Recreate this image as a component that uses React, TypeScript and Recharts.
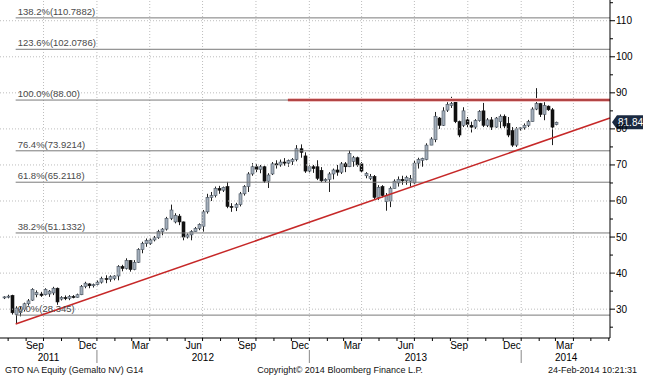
import React from 'react';
import { ComposedChart, Bar, XAxis, YAxis, ReferenceLine, ReferenceDot } from 'recharts';

// x values are days counted from 1 Jan 2012 (UTC)
const DAY0 = Date.UTC(2012, 0, 1);
const dayOf = (y: number, m: number, d: number) => Math.round((Date.UTC(y, m - 1, d) - DAY0) / 86400000);

const X_DOMAIN = [dayOf(2011, 7, 18), dayOf(2014, 6, 3)];
const Y_DOMAIN = [22, 115.75];
const FIRST_WEEK = dayOf(2011, 7, 24);

// weekly OHLC, GTO NA
const open = [
  33.2, 33.4, 33.8, 28.5, 29.0, 30.0, 31.5, 32.5, 34.0, 34.2,
  34.0, 34.2, 34.5, 35.8, 32.8, 33.2, 33.0, 33.5, 33.3, 34.0,
  36.3, 37.0, 36.5, 36.8, 37.5, 38.5, 38.3, 38.5, 39.2, 41.8,
  41.3, 43.5, 41.0, 43.0, 46.5, 48.2, 48.2, 49.2, 49.8, 51.5,
  52.2, 55.2, 54.2, 55.8, 54.2, 50.0, 50.6, 51.5, 52.4, 53.0,
  57.0, 61.0, 61.5, 63.5, 63.0, 64.0, 58.5, 58.2, 59.0, 62.0,
  64.0, 67.5, 69.5, 68.8, 69.5, 65.5, 67.5, 70.3, 70.0, 70.8,
  70.5, 71.0, 71.5, 74.5, 72.5, 68.3, 69.5, 69.5, 68.5, 65.6,
  66.0, 67.5, 68.6, 68.0, 70.3, 69.5, 71.0, 72.0, 70.3, 67.0,
  66.3, 66.8, 61.0, 64.0, 59.8, 60.0, 63.5, 65.0, 66.0, 65.6,
  65.5, 65.0, 70.5, 71.3, 71.5, 75.5, 77.0, 83.0, 81.0, 85.2,
  86.5, 88.0, 82.0, 81.0, 82.5, 81.0, 80.5, 82.3, 85.0, 81.0,
  82.5, 80.5, 82.0, 83.5, 81.5, 79.5, 75.5, 80.0, 80.3, 81.0,
  82.0, 85.5, 87.0, 84.0, 86.3, 85.3, 81.2,
];
const high = [
  33.6, 34.0, 34.0, 30.8, 30.8, 31.8, 32.8, 35.8, 35.2, 34.8,
  35.8, 35.3, 36.2, 36.0, 33.6, 33.8, 33.9, 33.9, 34.3, 36.7,
  37.6, 37.2, 37.1, 38.0, 39.0, 39.4, 39.4, 39.4, 42.2, 42.3,
  44.1, 43.6, 43.6, 46.9, 48.7, 49.6, 49.6, 50.3, 52.0, 52.5,
  55.6, 59.0, 56.6, 56.4, 54.3, 51.0, 51.9, 52.8, 53.8, 57.5,
  62.0, 62.5, 64.0, 64.2, 64.0, 65.3, 59.4, 59.5, 62.5, 64.4,
  68.0, 70.5, 70.2, 70.0, 69.8, 67.7, 70.8, 71.3, 71.5, 71.9,
  71.5, 71.9, 75.5, 75.7, 73.5, 70.0, 70.0, 71.3, 69.4, 66.3,
  68.0, 69.0, 70.0, 70.8, 70.8, 74.0, 72.5, 72.3, 70.8, 68.0,
  67.5, 67.2, 64.4, 64.4, 62.2, 64.0, 66.0, 66.8, 67.0, 67.0,
  67.2, 71.3, 72.0, 72.0, 76.0, 77.7, 84.7, 83.3, 86.0, 87.4,
  88.9, 88.2, 82.3, 86.0, 83.3, 82.0, 82.7, 85.2, 87.2, 83.0,
  83.3, 83.3, 84.0, 84.0, 83.3, 80.5, 80.5, 80.5, 81.5, 82.5,
  86.0, 91.3, 87.2, 87.4, 86.5, 85.8, 82.0,
];
const low = [
  32.8, 33.0, 28.5, 26.0, 28.0, 29.5, 31.0, 32.3, 33.3, 33.4,
  33.8, 33.4, 33.9, 31.2, 32.4, 32.5, 32.5, 33.0, 33.2, 33.9,
  35.8, 35.8, 36.0, 36.6, 37.1, 37.2, 37.6, 38.0, 38.0, 40.5,
  41.0, 40.4, 40.8, 42.8, 45.5, 47.3, 47.8, 48.8, 49.5, 50.5,
  51.8, 54.7, 53.8, 53.3, 49.1, 49.6, 49.1, 51.5, 51.9, 51.5,
  56.5, 60.0, 61.0, 62.0, 62.5, 58.0, 57.0, 57.2, 58.5, 61.5,
  62.5, 67.0, 68.0, 67.7, 65.0, 63.6, 67.2, 69.0, 69.5, 69.8,
  69.5, 70.0, 71.0, 72.0, 67.8, 67.7, 67.8, 65.8, 65.2, 65.2,
  62.5, 66.0, 67.0, 67.5, 68.0, 69.4, 69.5, 69.5, 67.8, 66.3,
  65.8, 60.3, 60.3, 61.0, 57.3, 58.3, 63.5, 64.0, 64.5, 64.5,
  64.0, 64.8, 69.0, 69.5, 71.3, 75.5, 76.3, 80.0, 80.8, 84.7,
  85.8, 81.6, 77.7, 80.5, 80.5, 79.0, 80.0, 82.0, 80.5, 80.5,
  79.7, 80.3, 80.2, 80.2, 77.7, 75.0, 75.0, 79.5, 79.8, 80.5,
  82.0, 85.2, 83.3, 82.4, 85.0, 75.5, 81.0,
];
const close = [
  33.4, 33.6, 29.0, 30.3, 30.0, 31.5, 32.3, 35.5, 34.6, 33.8,
  35.5, 35.0, 35.8, 32.0, 33.2, 33.0, 33.5, 33.3, 34.0, 36.3,
  37.2, 36.5, 36.8, 37.5, 38.5, 38.3, 39.0, 39.2, 41.8, 41.3,
  43.5, 41.0, 43.0, 46.5, 48.2, 49.0, 49.2, 49.8, 51.5, 52.2,
  55.2, 57.5, 56.0, 54.2, 50.0, 50.6, 51.5, 52.4, 53.5, 57.0,
  61.0, 61.5, 63.5, 63.0, 63.8, 58.5, 58.2, 59.0, 62.0, 64.0,
  67.5, 69.5, 68.8, 69.5, 65.5, 67.2, 70.3, 70.0, 70.8, 70.5,
  71.2, 71.5, 74.5, 73.5, 68.3, 69.5, 69.0, 66.3, 65.6, 66.0,
  67.5, 68.6, 68.0, 70.3, 69.5, 73.2, 72.0, 70.0, 68.3, 67.6,
  66.8, 61.0, 63.8, 61.5, 61.5, 63.5, 65.5, 66.0, 65.6, 66.5,
  66.2, 70.5, 71.5, 71.8, 75.5, 77.2, 83.5, 81.0, 85.0, 86.8,
  87.0, 82.0, 78.3, 85.0, 81.2, 80.5, 82.3, 84.8, 81.0, 82.5,
  80.5, 83.0, 83.5, 80.8, 78.3, 75.5, 80.0, 80.3, 81.0, 82.0,
  85.5, 87.0, 84.0, 86.5, 85.3, 80.5, 81.84,
];
const LAST_PRICE = 81.84;

// Fibonacci retracement levels
const fibPct = ['138.2%', '123.6%', '100.0%', '76.4%', '61.8%', '38.2%', '0.0%'];
const fibVal = [110.7882, 102.0786, 88.0, 73.9214, 65.2118, 51.1332, 28.345];
const fibText = ['110.7882', '102.0786', '88.00', '73.9214', '65.2118', '51.1332', '28.345'];

// trend lines
const trendStart = { x: dayOf(2011, 8, 14), y: 25.9 };
const trendEnd = { x: X_DOMAIN[1], y: 83.0 };
const resistStart = { x: dayOf(2012, 11, 25), y: 88.0 };

// axes
const yMajor = [30, 40, 50, 60, 70, 80, 90, 100, 110];
const yMinor = [25, 35, 45, 55, 65, 75, 85, 95, 105, 115];

const monthStarts: number[] = [];
for (let y = 2011, m = 8; y < 2014 || m <= 6; m++) {
  if (m > 12) { m = 1; y++; }
  monthStarts.push(dayOf(y, m, 1));
}
const quarterGrid = [
  dayOf(2011, 10, 1), dayOf(2012, 1, 1), dayOf(2012, 4, 1), dayOf(2012, 7, 1),
  dayOf(2012, 10, 1), dayOf(2013, 1, 1), dayOf(2013, 4, 1), dayOf(2013, 7, 1),
  dayOf(2013, 10, 1), dayOf(2014, 1, 1), dayOf(2014, 4, 1),
];
const monthNames = ['Sep', 'Dec', 'Mar', 'Jun', 'Sep', 'Dec', 'Mar', 'Jun', 'Sep', 'Dec', 'Mar'];
const monthDates = [
  dayOf(2011, 9, 16), dayOf(2011, 12, 16), dayOf(2012, 3, 16), dayOf(2012, 6, 16),
  dayOf(2012, 9, 16), dayOf(2012, 12, 16), dayOf(2013, 3, 16), dayOf(2013, 6, 16),
  dayOf(2013, 9, 16), dayOf(2013, 12, 16), dayOf(2014, 3, 17),
];
const yearNames = ['2011', '2012', '2013', '2014'];
const yearStarts = [dayOf(2012, 1, 1), dayOf(2013, 1, 1), dayOf(2014, 1, 1)];
// label spots (middle of each year's visible span), offset by half a day so they never share a tick value
const yearDates = [-83.5, 182.5, 549.5, 808.5];

const data = open.map((o, i) => ({
  day: FIRST_WEEK + 7 * i,
  open: o,
  high: high[i],
  low: low[i],
  close: close[i],
  range: [low[i], high[i]],
}));

const FONT = '"Liberation Sans", Arial, sans-serif';

const Candle = (props: any) => {
  const { x, y, width, height, payload } = props;
  if (x == null || height == null) return null;
  const top = Math.min(y, y + height);
  const h = Math.abs(height);
  const span = payload.high - payload.low || 1;
  const toY = (v: number) => top + ((payload.high - v) / span) * h;
  const cx = Math.round(x + width / 2) + 0.5;
  const up = payload.close >= payload.open;
  const yo = toY(payload.open);
  const yc = toY(payload.close);
  const bTop = Math.min(yo, yc);
  const bH = Math.max(1, Math.abs(yo - yc));
  return (
    <g>
      <line x1={cx} x2={cx} y1={top} y2={top + h} stroke="#1e1e1e" strokeWidth={1} />
      <rect
        x={cx - 1.5}
        y={bTop}
        width={3}
        height={bH}
        fill={up ? '#a3aebb' : '#111'}
        stroke={up ? '#4a5460' : '#111'}
        strokeWidth={0.6}
      />
    </g>
  );
};

const XTick = (props: any) => {
  const { x, y, payload } = props;
  const v = payload.value;
  const mi = monthDates.indexOf(v);
  if (mi >= 0) {
    return (
      <text x={x} y={y + 11} textAnchor="middle" fontSize={10} fontFamily={FONT} fill="#000">
        {monthNames[mi]}
      </text>
    );
  }
  const yi = yearDates.indexOf(v);
  if (yi >= 0) {
    return (
      <text x={x} y={y + 23} textAnchor="middle" fontSize={10} fontFamily={FONT} fill="#000">
        {yearNames[yi]}
      </text>
    );
  }
  return (
    <g>
      <line x1={x} x2={x} y1={y} y2={y + 3} stroke="#000" />
      {yearStarts.includes(v) && <line x1={x} x2={x} y1={y + 12} y2={y + 25} stroke="#888" />}
    </g>
  );
};

const YTick = (props: any) => {
  const { x, y, payload } = props;
  const major = yMajor.includes(payload.value);
  return (
    <g>
      <line x1={x} x2={x + (major ? 5 : 3)} y1={y} y2={y} stroke="#000" />
      {major && (
        <text x={x + 6} y={y + 3.5} fontSize={10} fontFamily={FONT} fill="#000">
          {payload.value}
        </text>
      )}
    </g>
  );
};

const FibLabel = (props: any) => {
  const { cx, cy, text } = props;
  if (cx == null) return null;
  return (
    <text x={cx + 2} y={cy - 3} fontSize={9.5} fontFamily={FONT} fill="#4a4a4a">
      {text}
    </text>
  );
};

const PriceTag = (props: any) => {
  const { cx, cy } = props;
  if (cx == null) return null;
  return (
    <g>
      <polygon
        points={`${cx + 2},${cy} ${cx + 7},${cy - 7} ${cx + 33},${cy - 7} ${cx + 33},${cy + 7} ${cx + 7},${cy + 7}`}
        fill="#1b2a41"
      />
      <text x={cx + 8} y={cy + 4} fontSize={10} fontFamily={FONT} fill="#fff">
        {LAST_PRICE.toFixed(2)}
      </text>
    </g>
  );
};

export default function App() {
  const xTicks = [...monthStarts, ...monthDates, ...yearDates];
  return (
    <div style={{ position: 'absolute', left: 0, top: 0, width: 645, height: 376, background: '#fff' }}>
      <ComposedChart width={645} height={376} data={data} margin={{ top: 0, right: 0, bottom: 0, left: 0 }}>
        <XAxis
          xAxisId="x"
          dataKey="day"
          type="number"
          domain={X_DOMAIN}
          allowDataOverflow
          ticks={xTicks}
          interval={0}
          tick={<XTick />}
          tickLine={false}
          tickSize={0}
          tickMargin={0}
          axisLine={{ stroke: '#000' }}
          height={38}
        />
        <YAxis
          yAxisId="y"
          orientation="right"
          type="number"
          domain={Y_DOMAIN}
          allowDataOverflow
          ticks={[...yMajor, ...yMinor]}
          interval={0}
          tick={<YTick />}
          tickLine={false}
          tickSize={0}
          tickMargin={0}
          axisLine={{ stroke: '#000' }}
          width={35}
        />
        {yMajor.map((v) => (
          <ReferenceLine key={'gy' + v} xAxisId="x" yAxisId="y" y={v} stroke="#bdbdbd" strokeDasharray="1 2" />
        ))}
        {quarterGrid.map((d) => (
          <ReferenceLine key={'gx' + d} xAxisId="x" yAxisId="y" x={d} stroke="#bdbdbd" strokeDasharray="1 2" />
        ))}
        {fibVal.map((v) => (
          <ReferenceLine
            key={'fib' + v}
            xAxisId="x"
            yAxisId="y"
            segment={[{ x: trendStart.x, y: v }, { x: X_DOMAIN[1], y: v }]}
            stroke="#7a7a7a"
            strokeWidth={1}
          />
        ))}
        {fibVal.map((v, i) => (
          <ReferenceDot
            key={'fl' + v}
            xAxisId="x"
            yAxisId="y"
            x={trendStart.x}
            y={v}
            r={0}
            shape={<FibLabel text={`${fibPct[i]}(${fibText[i]})`} />}
          />
        ))}
        <Bar
          xAxisId="x"
          yAxisId="y"
          dataKey="range"
          barSize={3}
          shape={<Candle />}
          isAnimationActive={false}
        />
        <ReferenceLine
          xAxisId="x"
          yAxisId="y"
          segment={[resistStart, { x: X_DOMAIN[1], y: 88 }]}
          stroke="#f0c4c4"
          strokeWidth={4}
        />
        <ReferenceLine
          xAxisId="x"
          yAxisId="y"
          segment={[resistStart, { x: X_DOMAIN[1], y: 88 }]}
          stroke="#9e1b1b"
          strokeWidth={1.6}
        />
        <ReferenceLine
          xAxisId="x"
          yAxisId="y"
          segment={[trendStart, trendEnd]}
          stroke="#c62828"
          strokeWidth={1.5}
        />
        <ReferenceDot
          xAxisId="x"
          yAxisId="y"
          x={X_DOMAIN[1]}
          y={LAST_PRICE}
          r={0}
          ifOverflow="visible"
          shape={<PriceTag />}
        />
      </ComposedChart>
      <svg width={645} height={376} style={{ position: 'absolute', left: 0, top: 0, pointerEvents: 'none' }}>
        <text x={5} y={373} fontSize={9} fontFamily={FONT} fill="#111">
          GTO NA Equity (Gemalto NV) G14
        </text>
        <text x={340} y={373} textAnchor="middle" fontSize={9} fontFamily={FONT} fill="#111">
          Copyright© 2014 Bloomberg Finance L.P.
        </text>
        <text x={637} y={373} textAnchor="end" fontSize={9} fontFamily={FONT} fill="#111">
          24-Feb-2014 10:21:31
        </text>
      </svg>
    </div>
  );
}
